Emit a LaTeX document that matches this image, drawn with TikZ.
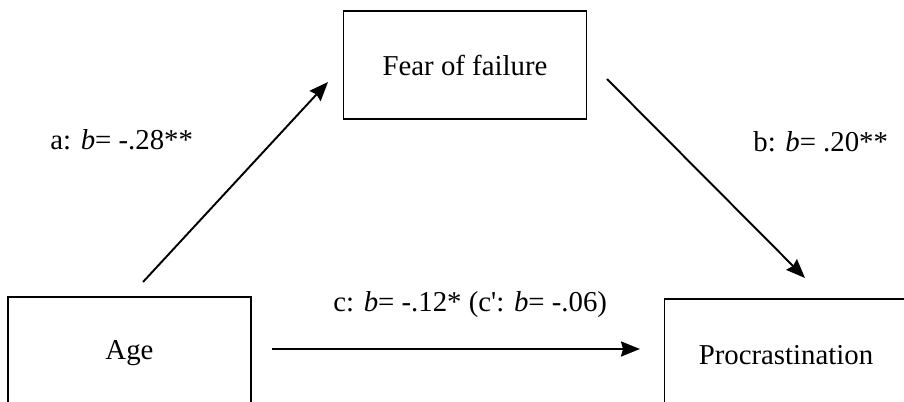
\documentclass[tikz,border=0pt]{standalone}
\usepackage{fontspec}
\setmainfont{Liberation Serif}
\usetikzlibrary{arrows.meta}

\begin{document}
\begin{tikzpicture}[x=0.02cm,y=-0.02cm,
		box/.style={draw,line width=1.1pt,minimum width=4.86cm,inner sep=0pt},
		path/.style={line width=1.1pt,-{Stealth[length=0.38cm,width=0.3cm,inset=0.04cm]}},
		lbl/.style={anchor=west,inner sep=0pt},
		font=\fontsize{16.4}{19}\selectfont]
			\clip (0,0) rectangle (904,402);
			\fill[white] (0,0) rectangle (904,402);
			\node[box,minimum height=2.16cm] (fear) at (465,65) {Fear of failure};
			\node[box,minimum height=2.24cm] (age) at (129.5,353) {Age};
			\node[box,minimum height=2.24cm] (proc) at (786,355) {Procrastination};
			\coordinate (aS) at (143,282); \coordinate (aE) at (328,82);
			\coordinate (bS) at (607,79);  \coordinate (bE) at (805,278);
			\coordinate (cS) at (272,349); \coordinate (cE) at (640,349);
			\draw[path] (aS) -- (aE);
			\draw[path] (bS) -- (bE);
			\draw[path] (cS) -- (cE);
			\node[lbl] (la) at (50,140) {a: \textit{b}= -.28**};
			\node[lbl] (lb) at (753,142) {b: \textit{b}= .20**};
			\node[lbl] (lc) at (333,305) {c: \textit{b}= -.12* (c\textquotesingle: \textit{b}= -.06)};
		\end{tikzpicture}
\end{document}
